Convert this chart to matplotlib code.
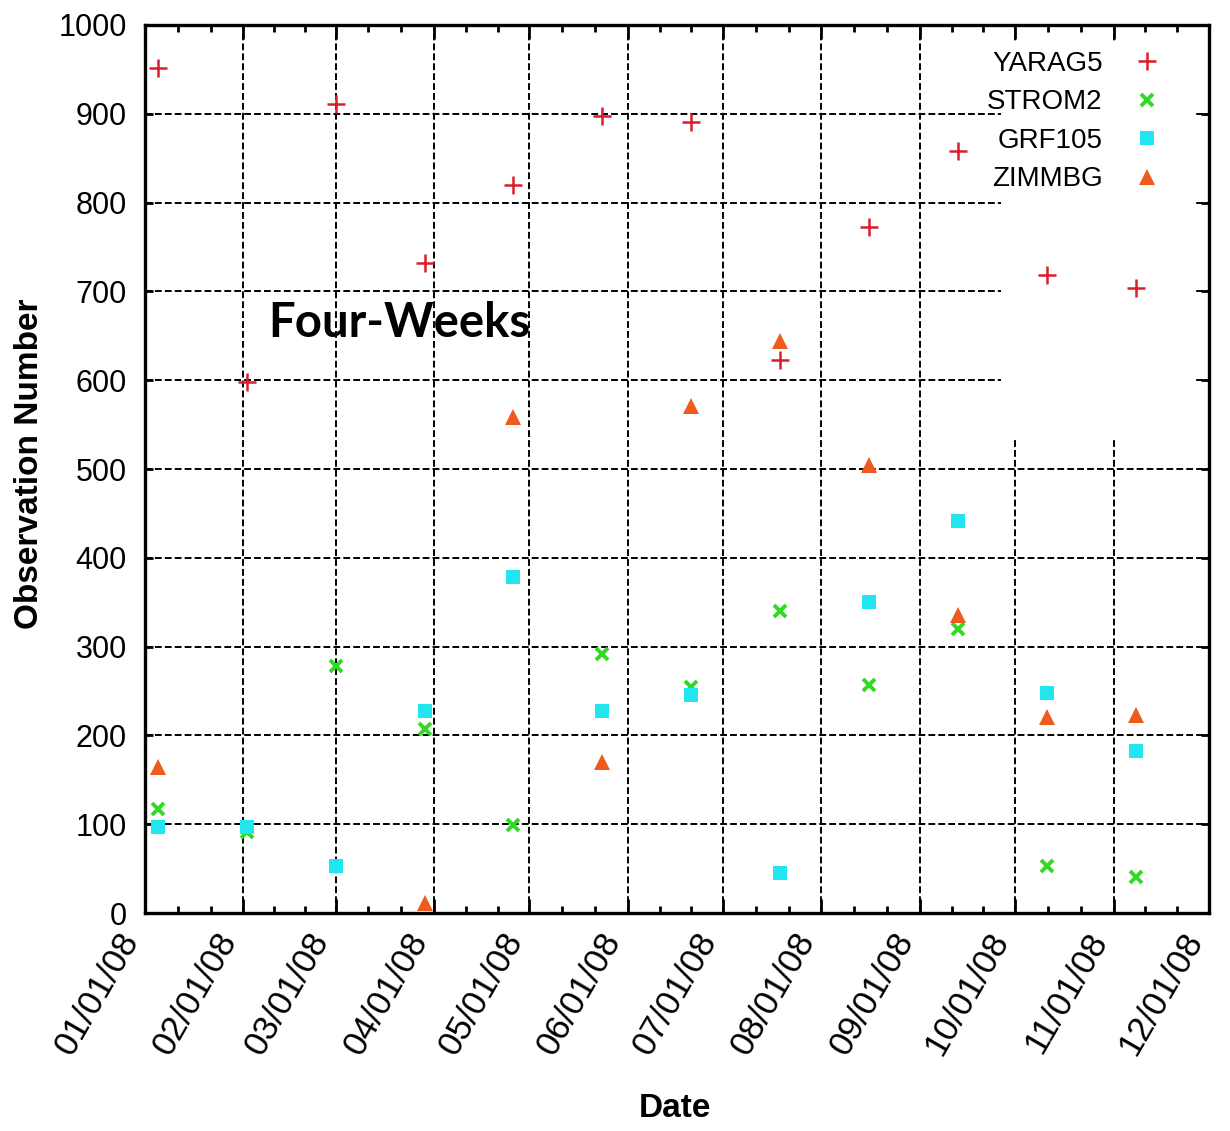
import matplotlib
matplotlib.use('Agg')
import matplotlib.pyplot as plt
import matplotlib.dates as mdates
import numpy as np
from matplotlib.patches import Rectangle

# 观测日期（每四周一次）
dates = ['2008-01-05', '2008-02-02', '2008-03-01', '2008-03-29', '2008-04-26', '2008-05-24',
         '2008-06-21', '2008-07-19', '2008-08-16', '2008-09-13', '2008-10-11', '2008-11-08']

# 各测站的观测数
yarag5 = [952, 598, 911, 732, 820, 898, 891, 623, 773, 858, 718, 704]
strom2 = [117, 91, 278, 207, 99, 292, 255, 340, 257, 320, 53, 41]
grf105 = [97, 97, 53, 228, 378, 228, 246, 45, 350, 442, 248, 182]
zimmbg = [165, np.nan, np.nan, 11, 559, 170, 571, 644, 505, 336, 221, 223]

month_starts = ['2008-01-01', '2008-02-01', '2008-03-01', '2008-04-01', '2008-05-01', '2008-06-01',
                '2008-07-01', '2008-08-01', '2008-09-01', '2008-10-01', '2008-11-01', '2008-12-01']
y_ticks = [0, 100, 200, 300, 400, 500, 600, 700, 800, 900, 1000]

font = ['Liberation Sans', 'DejaVu Sans']

x = mdates.datestr2num(dates)
mx = mdates.datestr2num(month_starts)

fig = plt.figure(figsize=(12.3, 11.31), dpi=100)
ax = fig.add_axes([0.1179, 0.1927, 0.865, 0.7852])
ax.set_axisbelow(True)

ax.plot(x, yarag5, linestyle='none', marker='+', ms=13, mew=1.8, color='#d81e2a', label='YARAG5', zorder=3)
ax.plot(x, strom2, linestyle='none', marker='x', ms=9, mew=2.8, color='#33d924', label='STROM2', zorder=3)
ax.plot(x, grf105, linestyle='none', marker='s', ms=10, mew=0, color='#22e6ef', label='GRF105', zorder=3)
ax.plot(x, zimmbg, linestyle='none', marker='^', ms=11, mew=0, color='#ef5a1e', label='ZIMMBG', zorder=3)

ax.set_xlim(mx[0], mx[-1])
ax.set_ylim(0, 1000)

# 主刻度在每月1日，次刻度在每月三分点
minor = []
for a, b in zip(mx[:-1], mx[1:]):
    minor += [a + (b - a) / 3, a + 2 * (b - a) / 3]
ax.set_xticks(mx)
ax.set_xticks(minor, minor=True)
ax.set_yticks(y_ticks)
ax.xaxis.set_major_formatter(mdates.DateFormatter('%m/%d/%y'))

ax.grid(True, which='major', color='black', linestyle=(0, (3.5, 1.6)), linewidth=1.4)

# 图例后面的白色遮挡块
ax.add_patch(Rectangle((0.805, 0.536), 0.18, 0.446, transform=ax.transAxes,
                       facecolor='white', edgecolor='none', zorder=1))

for s in ax.spines.values():
    s.set_linewidth(2.4)

ax.tick_params(which='both', direction='in', top=True, right=True, width=2)
ax.tick_params(axis='x', which='major', length=10, pad=10)
ax.tick_params(axis='x', which='minor', length=5)
ax.tick_params(axis='y', which='major', length=6, pad=13)

for t in ax.get_xticklabels():
    t.set_family(font)
    t.set_fontsize(25)
    t.set_rotation(60)
    t.set_ha('right')
    t.set_va('top')
for t in ax.get_yticklabels():
    t.set_family(font)
    t.set_fontsize(22)

ax.set_xlabel('Date', family=font, fontsize=24, fontweight='bold')
ax.xaxis.set_label_coords(0.498, -0.203)
ax.set_ylabel('Observation Number', family=font, fontsize=24, fontweight='bold')
ax.yaxis.set_label_coords(-0.094, 0.506)

ax.text(0.1155, 0.664, 'Four-Weeks', transform=ax.transAxes, family=['Lato', 'DejaVu Sans'],
        fontsize=34, fontweight='bold', ha='left', va='center', zorder=4)

leg = ax.legend(loc='upper right', bbox_to_anchor=(0.955, 0.971), frameon=False, markerfirst=False,
                numpoints=1, handlelength=1.0, handletextpad=1.1, labelspacing=0.45,
                borderpad=0, borderaxespad=0, prop={'family': font, 'size': 20})

fig.savefig('out.png', dpi=100)
